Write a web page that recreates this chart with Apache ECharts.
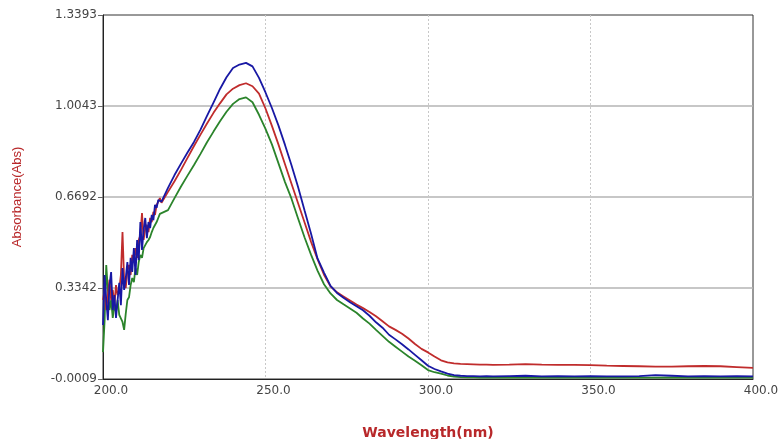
<!DOCTYPE html>
<html>
<head>
<meta charset="utf-8">
<script src="https://cdn.jsdelivr.net/npm/echarts@6/dist/echarts.min.js"></script>
<style>
  html, body { margin: 0; padding: 0; background: #ffffff; }
  #chart { width: 780px; height: 439px; }
</style>
</head>
<body>
<div id="chart"></div>
<script>
// Wavelength grid (nm): fine steps through the noisy short-wave end, coarser afterwards
const wavelengths = [
  200.0, 200.5, 201.0, 201.5, 202.0, 202.5, 203.0, 203.5, 204.0, 204.5,
  205.0, 205.5, 206.0, 206.5, 207.0, 207.5, 208.0, 208.5, 209.0, 209.5,
  210.0, 210.5, 211.0, 211.5, 212.0, 212.5, 213.0, 213.5, 214.0, 214.5,
  215.0, 215.5, 216.0, 216.5, 217.0, 217.5,
  218, 220, 222, 224, 226, 228, 230, 232, 234, 236,
  238, 240, 242, 244, 246, 248, 250, 252, 254, 256,
  258, 260, 262, 264, 266, 268, 270, 272, 274, 276,
  278, 280, 282, 284, 286, 288, 290, 292, 294, 296,
  298, 300, 302, 304, 306, 308, 310, 312, 314, 316,
  318, 320,
  325, 330, 335, 340, 345, 350, 355, 360, 365, 370,
  375, 380, 385, 390, 395, 400
];

// Absorbance of each scan at the wavelengths above
const absBlue = [
  0.198, 0.382, 0.290, 0.216, 0.345, 0.393, 0.253, 0.308, 0.224, 0.290,
  0.353, 0.271, 0.408, 0.327, 0.371, 0.430, 0.345, 0.445, 0.393, 0.481,
  0.382, 0.511, 0.437, 0.577, 0.474, 0.548, 0.592, 0.518, 0.577, 0.555,
  0.603, 0.584, 0.640, 0.629, 0.658, 0.651,
  0.652, 0.703, 0.750, 0.792, 0.833, 0.872, 0.917, 0.968, 1.017, 1.067,
  1.110, 1.144, 1.157, 1.163, 1.150, 1.108, 1.054, 0.996, 0.932, 0.861,
  0.786, 0.707, 0.620, 0.535, 0.443, 0.391, 0.342, 0.316, 0.298, 0.282,
  0.267, 0.252, 0.232, 0.208, 0.188, 0.162, 0.145, 0.127, 0.108, 0.088,
  0.068, 0.048, 0.036, 0.027, 0.019, 0.013, 0.011, 0.010, 0.010, 0.009,
  0.010, 0.009,
  0.010, 0.011, 0.009, 0.010, 0.009, 0.010, 0.009, 0.009, 0.010, 0.013,
  0.011, 0.009, 0.010, 0.009, 0.010, 0.009
];

const absRed = [
  0.290, 0.327, 0.253, 0.308, 0.364, 0.290, 0.327, 0.271, 0.345, 0.308,
  0.327, 0.382, 0.540, 0.364, 0.334, 0.400, 0.419, 0.382, 0.456, 0.430,
  0.481, 0.445, 0.511, 0.529, 0.610, 0.511, 0.555, 0.566, 0.540, 0.592,
  0.577, 0.614, 0.603, 0.640, 0.651, 0.665,
  0.648, 0.688, 0.727, 0.769, 0.813, 0.857, 0.899, 0.940, 0.979, 1.014,
  1.047, 1.068, 1.081, 1.088, 1.077, 1.050, 0.995, 0.930, 0.862, 0.790,
  0.718, 0.647, 0.576, 0.505, 0.440, 0.383, 0.340, 0.318, 0.303, 0.288,
  0.273, 0.260, 0.246, 0.230, 0.212, 0.193, 0.180, 0.166, 0.148, 0.128,
  0.110, 0.097, 0.082, 0.068, 0.060, 0.057, 0.055, 0.054, 0.053, 0.052,
  0.052, 0.051,
  0.052, 0.054, 0.052, 0.051, 0.051, 0.050, 0.048, 0.047, 0.046, 0.045,
  0.045, 0.046, 0.047, 0.046, 0.043, 0.040
];

const absGreen = [
  0.098, 0.216, 0.419, 0.327, 0.253, 0.290, 0.224, 0.271, 0.246, 0.290,
  0.235, 0.222, 0.209, 0.180, 0.240, 0.290, 0.300, 0.345, 0.371, 0.356,
  0.408, 0.382, 0.430, 0.456, 0.445, 0.481, 0.474, 0.503, 0.511, 0.522,
  0.540, 0.555, 0.566, 0.577, 0.592, 0.607,
  0.600, 0.621, 0.665, 0.708, 0.748, 0.787, 0.828, 0.871, 0.910, 0.948,
  0.983, 1.012, 1.030, 1.036, 1.018, 0.972, 0.920, 0.862, 0.793, 0.724,
  0.663, 0.591, 0.521, 0.457, 0.398, 0.348, 0.314, 0.290, 0.274, 0.259,
  0.243, 0.222, 0.203, 0.180, 0.158, 0.136, 0.118, 0.100, 0.082, 0.066,
  0.050, 0.032, 0.024, 0.019, 0.012, 0.008, 0.006, 0.005, 0.005, 0.004,
  0.005, 0.004,
  0.004, 0.005, 0.004, 0.004, 0.005, 0.004, 0.004, 0.005, 0.004, 0.004,
  0.005, 0.004, 0.004, 0.005, 0.004, 0.004
];

// Axis ranges and tick labels
const absMin = -0.0009;
const absMax = 1.3393;
const yTickLabels = ['-0.0009', '0.3342', '0.6692', '1.0043', '1.3393'];
const wlMin = 200;
const wlMax = 400;
const wlStep = 50;

const titleRed = '#b8282a';
const tickFont = 'DejaVu Sans';

function toPairs(values) {
  return wavelengths.map((w, i) => [w, values[i]]);
}

function scanSeries(name, values, color) {
  return {
    name: name,
    type: 'line',
    xAxisIndex: 0,
    yAxisIndex: 0,
    data: toPairs(values),
    showSymbol: false,
    symbol: 'none',
    smooth: false,
    clip: true,
    lineStyle: { color: color, width: 1.8 },
    emphasis: { disabled: true }
  };
}

const chart = echarts.init(document.getElementById('chart'), null, { renderer: 'canvas' });

chart.setOption({
  animation: false,
  backgroundColor: '#ffffff',
  grid: {
    left: 103, right: 27, top: 15, bottom: 60,
    outerBoundsMode: 'none',
    containLabel: false,
    show: true, borderColor: '#333333', borderWidth: 1,
    backgroundColor: 'transparent'
  },
  xAxis: {
    type: 'value',
    min: wlMin, max: wlMax, interval: wlStep,
    axisLine: { show: true, lineStyle: { color: '#222222', width: 1 } },
    axisTick: { show: false },
    axisLabel: {
      formatter: (v) => v.toFixed(1),
      color: '#444444', fontFamily: tickFont, fontSize: 12,
      margin: 6, padding: [0, 0, 0, 16]
    },
    splitLine: {
      show: true, showMinLine: false, showMaxLine: false,
      lineStyle: { color: '#c8c8c8', width: 1, type: [2, 2] }
    },
    name: 'Wavelength(nm)',
    nameLocation: 'middle',
    nameGap: 47,
    nameTextStyle: { color: titleRed, fontFamily: tickFont, fontSize: 14, fontWeight: 'bold' }
  },
  yAxis: [
    {
      // data axis: carries the absorbance scale for the scans
      type: 'value',
      position: 'left',
      min: absMin, max: absMax,
      axisLine: { show: true, lineStyle: { color: '#222222', width: 1 } },
      axisTick: { show: false },
      axisLabel: { show: false },
      splitLine: { show: false },
      name: 'Absorbance(Abs)',
      nameLocation: 'middle',
      nameGap: 79,
      nameTextStyle: { color: titleRed, fontFamily: 'Liberation Sans', fontSize: 13 }
    },
    {
      // labelling axis: four equal divisions of the absorbance range
      type: 'value',
      position: 'left',
      min: 0, max: yTickLabels.length - 1, interval: 1,
      axisLine: { show: false },
      axisTick: { show: true, length: 5, lineStyle: { color: '#666666' } },
      axisLabel: {
        formatter: (v) => yTickLabels[Math.round(v)],
        color: '#444444', fontFamily: tickFont, fontSize: 12, margin: 6
      },
      splitLine: {
        show: true, showMinLine: false, showMaxLine: false,
        lineStyle: { color: '#b4b4b4', width: 1.5 }
      }
    }
  ],
  series: [
    scanSeries('scan 3', absGreen, '#2b842b'),
    scanSeries('scan 2', absRed, '#c02c2c'),
    scanSeries('scan 1', absBlue, '#1818a4')
  ]
});
</script>
</body>
</html>
